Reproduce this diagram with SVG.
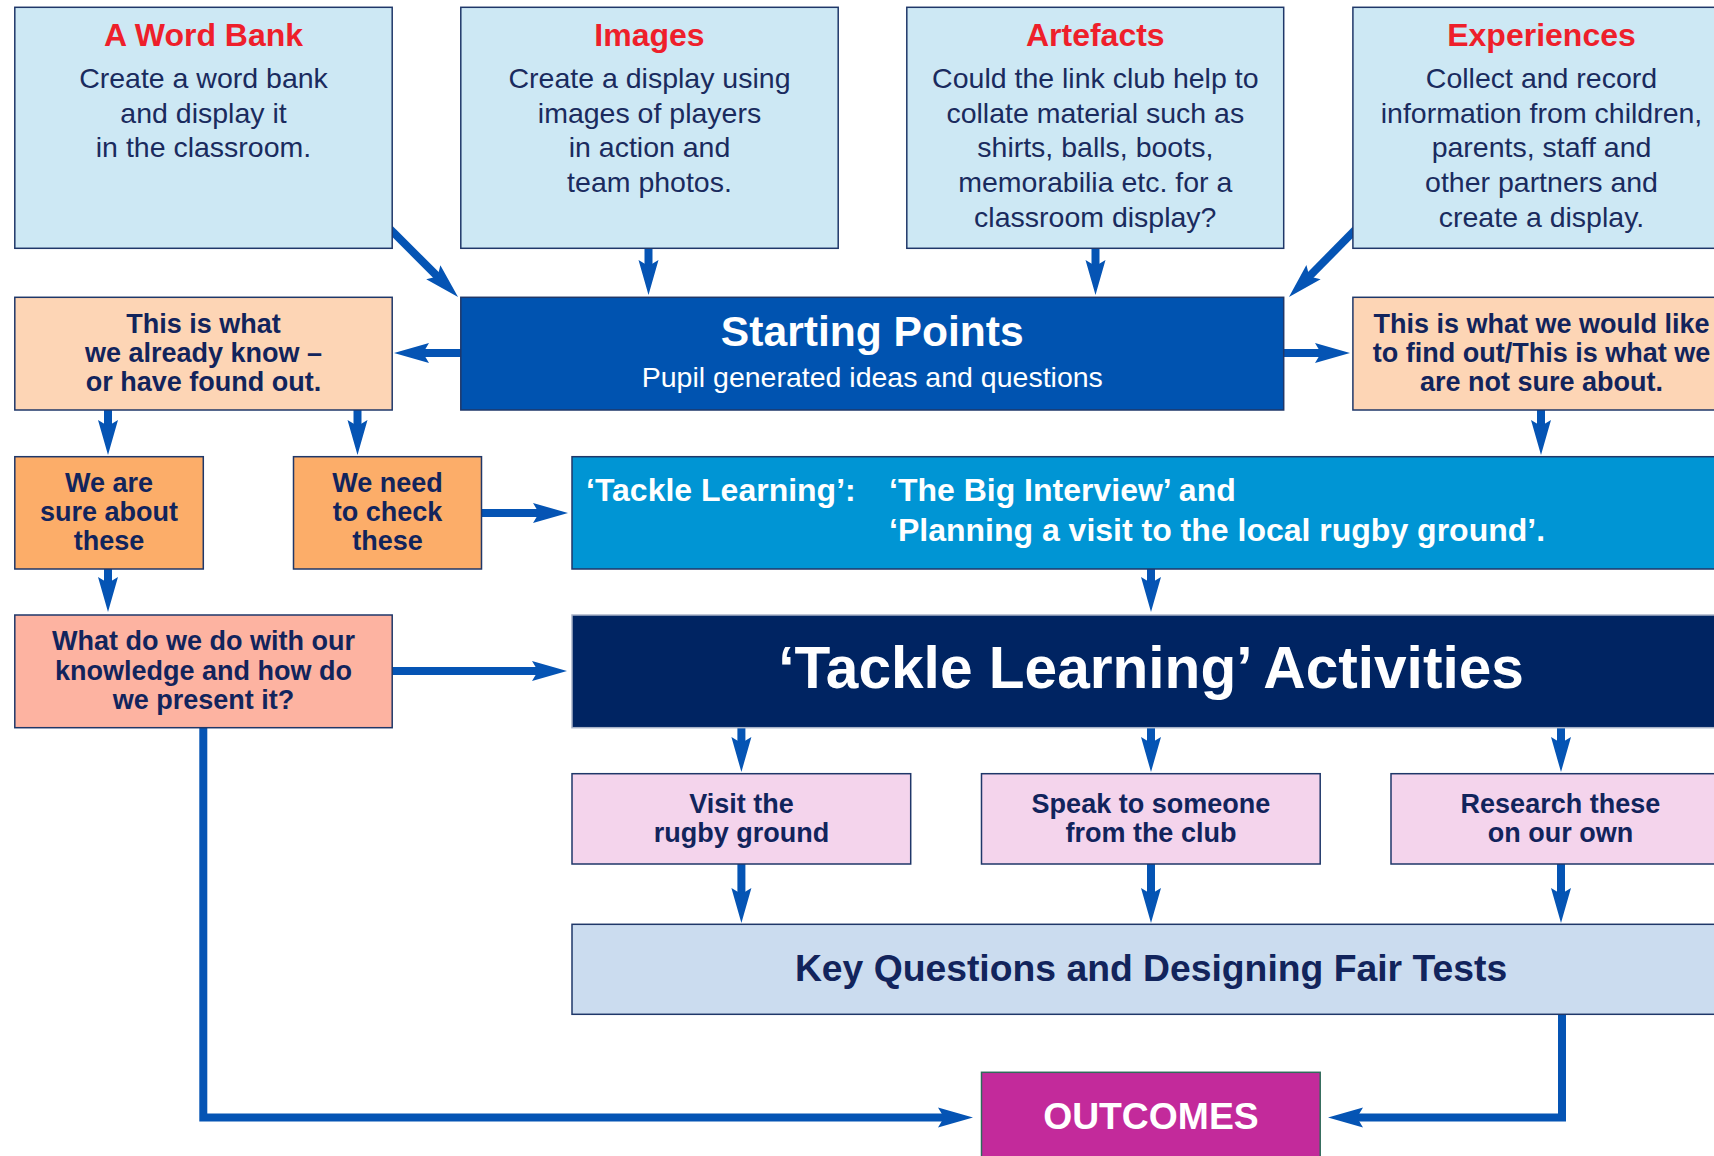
<svg xmlns="http://www.w3.org/2000/svg" width="1714" height="1156" viewBox="0 0 1714 1156">
  <style>
    text { font-family: "Liberation Sans", Arial, Helvetica, sans-serif; }
    .box { stroke: #1f3769; stroke-width: 1.5; }
    .src { fill: #cde8f4; }
    .peach { fill: #fdd5b5; }
    .orange { fill: #fcad69; }
    .salmon { fill: #fdb3a1; }
    .pink { fill: #f4d4ec; }
    .ttl { font-size: 32px; font-weight: bold; fill: #ee1f2b; text-anchor: middle; }
    .body { font-size: 28.5px; fill: #1a2b5e; text-anchor: middle; }
    .lbl { font-size: 27px; font-weight: bold; fill: #12245c; text-anchor: middle; }
    .wht { fill: #ffffff; font-weight: bold; }
    .conn { fill: none; stroke: #0554b4; stroke-width: 8; stroke-linejoin: miter; marker-end: url(#ah); }
  </style>
  <defs>
    <marker id="ah" markerUnits="userSpaceOnUse" markerWidth="40" markerHeight="24" viewBox="0 -12 40 24" refX="15" refY="0" orient="auto" overflow="visible">
      <path d="M35,0 L0,-10 L6,0 L0,10 Z" fill="#0554b4"/>
    </marker>
  </defs>

  <rect width="1714" height="1156" fill="#ffffff"/>

  <!-- connectors -->
  <g id="connectors">
    <path class="conn" d="M387,226 L443.9,282.9"/>
    <path class="conn" d="M648.5,248 V275"/>
    <path class="conn" d="M1095.5,248 V275"/>
    <path class="conn" d="M1358,227 L1303,282.8"/>
    <path class="conn" d="M461,353 H414"/>
    <path class="conn" d="M1284,353 H1330"/>
    <path class="conn" d="M108,410 V435"/>
    <path class="conn" d="M357.5,410 V435"/>
    <path class="conn" d="M1541,410 V435"/>
    <path class="conn" d="M481.5,513 H548"/>
    <path class="conn" d="M108,569 V592"/>
    <path class="conn" d="M1151,569 V592"/>
    <path class="conn" d="M392,671 H547"/>
    <path class="conn" d="M741.4,728 V752"/>
    <path class="conn" d="M1151,728 V752"/>
    <path class="conn" d="M1561,728 V752"/>
    <path class="conn" d="M741.4,864 V903"/>
    <path class="conn" d="M1151,864 V903"/>
    <path class="conn" d="M1561,864 V903"/>
    <path class="conn" d="M203.3,727 V1117.5 H953"/>
    <path class="conn" d="M1562,1014 V1117.5 H1348"/>
  </g>

  <!-- starting sources -->
  <g id="word-bank">
    <rect class="box src" x="14.8" y="7.3" width="377.4" height="241"/>
    <text class="ttl" x="203.5" y="45.7">A Word Bank</text>
    <text class="body" x="203.5" y="88">Create a word bank</text>
    <text class="body" x="203.5" y="122.7">and display it</text>
    <text class="body" x="203.5" y="157.3">in the classroom.</text>
  </g>
  <g id="images">
    <rect class="box src" x="460.8" y="7.3" width="377.4" height="241"/>
    <text class="ttl" x="649.5" y="45.7">Images</text>
    <text class="body" x="649.5" y="88">Create a display using</text>
    <text class="body" x="649.5" y="122.7">images of players</text>
    <text class="body" x="649.5" y="157.3">in action and</text>
    <text class="body" x="649.5" y="192">team photos.</text>
  </g>
  <g id="artefacts">
    <rect class="box src" x="906.8" y="7.3" width="376.9" height="241"/>
    <text class="ttl" x="1095.3" y="45.7">Artefacts</text>
    <text class="body" x="1095.3" y="88">Could the link club help to</text>
    <text class="body" x="1095.3" y="122.7">collate material such as</text>
    <text class="body" x="1095.3" y="157.3">shirts, balls, boots,</text>
    <text class="body" x="1095.3" y="192">memorabilia etc. for a</text>
    <text class="body" x="1095.3" y="226.7">classroom display?</text>
  </g>
  <g id="experiences">
    <rect class="box src" x="1352.9" y="7.3" width="377" height="241"/>
    <text class="ttl" x="1541.5" y="45.7">Experiences</text>
    <text class="body" x="1541.5" y="88">Collect and record</text>
    <text class="body" x="1541.5" y="122.7">information from children,</text>
    <text class="body" x="1541.5" y="157.3">parents, staff and</text>
    <text class="body" x="1541.5" y="192">other partners and</text>
    <text class="body" x="1541.5" y="226.7">create a display.</text>
  </g>

  <!-- hub -->
  <g id="starting-points">
    <rect class="box" x="460.8" y="297.3" width="822.9" height="112.7" fill="#0053b0"/>
    <text class="wht" x="872.3" y="346" font-size="42.6" text-anchor="middle">Starting Points</text>
    <text x="872.3" y="387" font-size="28.5" fill="#ffffff" text-anchor="middle">Pupil generated ideas and questions</text>
  </g>

  <g id="already-know">
    <rect class="box peach" x="14.8" y="297.3" width="377.4" height="112.7"/>
    <text class="lbl" x="203.5" y="333">This is what</text>
    <text class="lbl" x="203.5" y="362">we already know –</text>
    <text class="lbl" x="203.5" y="391">or have found out.</text>
  </g>
  <g id="find-out">
    <rect class="box peach" x="1352.9" y="297.3" width="377" height="112.7"/>
    <text class="lbl" x="1541.5" y="333">This is what we would like</text>
    <text class="lbl" x="1541.5" y="362">to find out/This is what we</text>
    <text class="lbl" x="1541.5" y="391">are not sure about.</text>
  </g>

  <g id="sure-about">
    <rect class="box orange" x="14.8" y="456.7" width="188.5" height="112.3"/>
    <text class="lbl" x="109" y="492">We are</text>
    <text class="lbl" x="109" y="521.3">sure about</text>
    <text class="lbl" x="109" y="550.3">these</text>
  </g>
  <g id="need-check">
    <rect class="box orange" x="293.5" y="456.7" width="188" height="112.3"/>
    <text class="lbl" x="387.5" y="492">We need</text>
    <text class="lbl" x="387.5" y="521.3">to check</text>
    <text class="lbl" x="387.5" y="550.3">these</text>
  </g>

  <g id="tackle-learning">
    <rect class="box" x="572" y="456.7" width="1158" height="112.3" fill="#0095d4"/>
    <text class="wht" x="586" y="501" font-size="32">‘Tackle Learning’:</text>
    <text class="wht" x="889" y="501" font-size="32">‘The Big Interview’ and</text>
    <text class="wht" x="889" y="541" font-size="32">‘Planning a visit to the local rugby ground’.</text>
  </g>

  <g id="present-knowledge">
    <rect class="box salmon" x="14.8" y="615" width="377.4" height="112.7"/>
    <text class="lbl" x="203.5" y="650.3">What do we do with our</text>
    <text class="lbl" x="203.5" y="680.3">knowledge and how do</text>
    <text class="lbl" x="203.5" y="709.3">we present it?</text>
  </g>

  <g id="activities">
    <rect x="572" y="615" width="1158" height="112.7" fill="#002462" stroke="#a9b3c8" stroke-width="1.5"/>
    <text class="wht" x="1151" y="688" font-size="58.6" text-anchor="middle">‘Tackle Learning’ Activities</text>
  </g>

  <g id="visit-ground">
    <rect class="box pink" x="572" y="773.7" width="338.7" height="90.3"/>
    <text class="lbl" x="741.4" y="812.5">Visit the</text>
    <text class="lbl" x="741.4" y="842">rugby ground</text>
  </g>
  <g id="speak-club">
    <rect class="box pink" x="981.5" y="773.7" width="338.7" height="90.3"/>
    <text class="lbl" x="1150.9" y="812.5">Speak to someone</text>
    <text class="lbl" x="1150.9" y="842">from the club</text>
  </g>
  <g id="research-own">
    <rect class="box pink" x="1391" y="773.7" width="338.7" height="90.3"/>
    <text class="lbl" x="1560.4" y="812.5">Research these</text>
    <text class="lbl" x="1560.4" y="842">on our own</text>
  </g>

  <g id="key-questions">
    <rect class="box" x="572" y="924.3" width="1158" height="90" fill="#cbdcef"/>
    <text x="1151" y="980.5" font-size="37.3" font-weight="bold" fill="#12245c" text-anchor="middle">Key Questions and Designing Fair Tests</text>
  </g>

  <g id="outcomes">
    <rect x="981.5" y="1072.3" width="338.7" height="95" fill="#c32a9b" stroke="#2f6b5a" stroke-width="1.5"/>
    <text class="wht" x="1150.9" y="1128.5" font-size="37.3" text-anchor="middle">OUTCOMES</text>
  </g>
</svg>
